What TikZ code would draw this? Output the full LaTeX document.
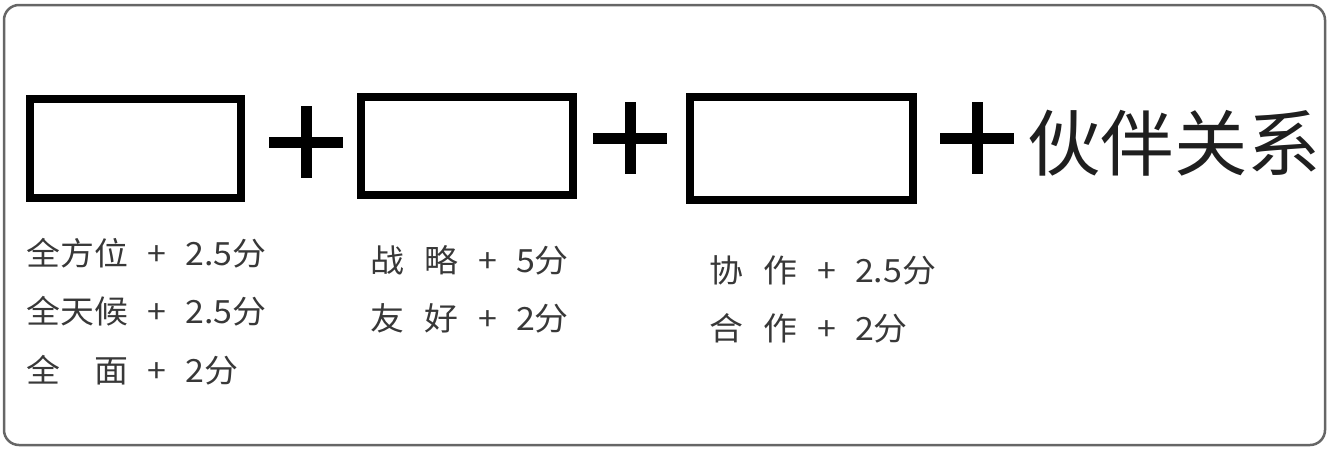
\documentclass[tikz,border=0pt]{standalone}
\usepackage{fontspec}
\newfontfamily\cjk[FakeStretch=1.06]{Noto Sans CJK SC}
\newfontfamily\cjkbig[FakeStretch=1.02]{Noto Sans CJK SC}
\usetikzlibrary{positioning}
\newcommand{\fen}[2]{#1\hspace{0.6em}+\hspace{0.6em}#2分}
\tikzset{
  blank/.style 2 args={draw, line width=8pt, inner sep=0pt, minimum width=#1, minimum height=#2},
  plusline/.style={line width=11pt},
  score/.style={anchor=west, inner sep=0pt, font=\cjk\fontsize{32}{32}\selectfont, text=black!78},
}

\begin{document}
\begin{tikzpicture}[x=1pt, y=-1pt]
\useasboundingbox (0,0) rectangle (1329,450);
\draw[rounded corners=15pt, line width=2.5pt, black!60](4,5) rectangle (1325,445);

\node[blank={211pt}{99pt}] (box1) at (135.5,148.5) {};
\node[blank={212pt}{98pt}] (box2) at (467,146) {};
\node[blank={223pt}{103pt}] (box3) at (801.5,148.5) {};

\draw[plusline, shift={(306,142)}](-37,0)--(37,0) (0,-36)--(0,36);
\draw[plusline, shift={(630,138)}](-37,0)--(37,0) (0,-36)--(0,36);
\draw[plusline, shift={(977,138)}](-37,0)--(37,0) (0,-36)--(0,36);

\node[anchor=west, inner sep=0pt, font=\cjkbig\fontsize{72}{72}\selectfont, text=black!88] (partner) at (1027,143) {伙伴关系};

\node[score] (allround) at (26,253) {\fen{全方位}{2.5}};
\node[score] (allweather) at (26,311) {\fen{全天候}{2.5}};
\node[score] (allface) at (26,370) {\fen{全　面}{2}};

\node[score] (strategic) at (370,260) {\fen{战\hspace{0.65em}略}{5}};
\node[score] (friendly) at (370,318) {\fen{友\hspace{0.65em}好}{2}};

\node[score] (coop) at (709,270) {\fen{协\hspace{0.65em}作}{2.5}};
\node[score] (collab) at (709,328) {\fen{合\hspace{0.65em}作}{2}};

\end{tikzpicture}
\end{document}
